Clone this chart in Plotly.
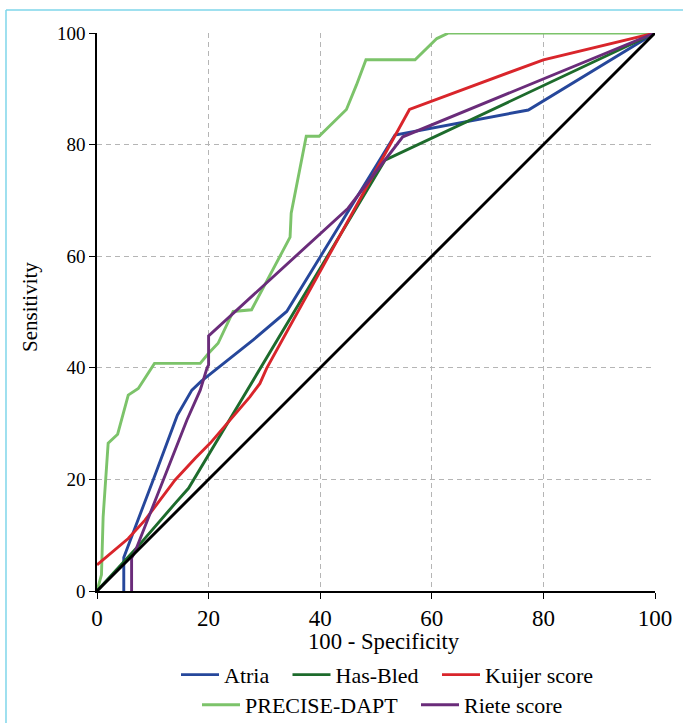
import plotly.graph_objects as go

# ---------------- data ----------------
atria_x = [4.8, 4.8, 10.1, 14.4, 17.0, 18.7, 28.0, 34.0, 53.4, 77.3, 100]
atria_y = [0, 6.0, 20.0, 31.5, 36.0, 37.6, 45.0, 50.1, 81.7, 86.2, 100]

hasbled_x = [0, 7.0, 14.0, 16.4, 51.6, 100]
hasbled_y = [0, 7.6, 15.7, 18.4, 77.2, 100]

kuijer_x = [0, 5.6, 8.6, 14.0, 17.6, 20.3, 27.4, 29.2, 30.4, 56.0, 80.0, 100]
kuijer_y = [4.7, 9.4, 12.7, 19.9, 23.8, 26.5, 34.8, 37.2, 39.9, 86.3, 95.2, 100]

precise_x = [0, 0.8, 1.1, 2.0, 3.7, 5.6, 7.4, 10.3, 18.5, 20.0, 21.7, 24.4, 27.7,
             34.6, 34.8, 37.5, 39.8, 44.7, 46.5, 48.2, 57.0, 60.9, 63.0, 100]
precise_y = [0, 2.9, 13.3, 26.5, 28.1, 35.1, 36.3, 40.8, 40.8, 42.6, 44.4, 50.1, 50.4,
             63.4, 67.7, 81.5, 81.5, 86.3, 90.7, 95.2, 95.2, 99.0, 100, 100]

riete_x = [6.2, 6.2, 6.8, 8.3, 10.7, 16.1, 18.5, 19.7, 20.0, 20.0, 45.0, 54.8, 100]
riete_y = [0, 5.9, 7.0, 10.9, 16.9, 30.6, 36.0, 39.9, 40.5, 45.7, 68.6, 81.4, 100]

ref_x = [0, 100]
ref_y = [0, 100]

tick_vals = [0, 20, 40, 60, 80, 100]
tick_text = ["0", "20", "40", "60", "80", "100"]

x_title = "100 - Specificity"
y_title = "Sensitivity"

# ---------------- figure ----------------
FONT = "Liberation Serif"
LW = 2.9

fig = go.Figure()

def add(x, y, name, color, legend, show=True):
    fig.add_trace(go.Scatter(
        x=x, y=y, mode="lines", name=name,
        line=dict(color=color, width=LW),
        showlegend=show, legend=legend, cliponaxis=False,
        hoverinfo="skip"))

add(precise_x, precise_y, "PRECISE-DAPT", "#7cc36a", "legend4")
add(atria_x, atria_y, "Atria", "#26479b", "legend")
add(hasbled_x, hasbled_y, "Has-Bled", "#1d6b2c", "legend2")
add(kuijer_x, kuijer_y, "Kuijer score", "#d9252b", "legend3")
add(riete_x, riete_y, "Riete score", "#6a2c7a", "legend5")
add(ref_x, ref_y, "Reference", "#000000", "legend", show=False)

# Light blue frame (left and top edges)
fig.add_shape(type="line", xref="paper", yref="paper",
              x0=-0.1631, x1=-0.1631, y0=-0.25, y1=1.0412,
              line=dict(color="#7fd6ea", width=1.5))
fig.add_shape(type="line", xref="paper", yref="paper",
              x0=-0.1631, x1=1.06, y0=1.0412, y1=1.0412,
              line=dict(color="#7fd6ea", width=1.5))

# Axis titles (placed as text annotations for exact positioning)
fig.add_annotation(text=x_title, xref="paper", yref="paper",
                   x=0.5143, y=-0.0905, xanchor="center", yanchor="middle",
                   showarrow=False,
                   font=dict(family=FONT, size=22.7, color="#000000"))
fig.add_annotation(text=y_title, xref="paper", yref="paper",
                   x=-0.12, y=0.509, xanchor="center", yanchor="middle",
                   textangle=-90, showarrow=False,
                   font=dict(family=FONT, size=21, color="#000000"))

axis_common = dict(
    range=[0, 100], tickmode="array", tickvals=tick_vals, ticktext=tick_text,
    showline=True, linecolor="#000000", linewidth=1.5,
    ticks="outside", ticklen=6, tickwidth=1.2, tickcolor="#000000",
    showgrid=True, gridcolor="#b5b5b5", gridwidth=1.2, griddash="5px,4px",
    zeroline=False, mirror=False, fixedrange=True,
)

def leg(x, y):
    return dict(orientation="h", x=x, xanchor="left", y=y, yanchor="middle",
                font=dict(family=FONT, size=22, color="#000000"),
                bgcolor="rgba(0,0,0,0)", borderwidth=0, itemwidth=38)

ROW1, ROW2 = -0.1502, -0.2042

fig.update_layout(
    width=683, height=723,
    margin=dict(l=97, r=28, t=33, b=132, autoexpand=False),
    paper_bgcolor="#ffffff", plot_bgcolor="#ffffff",
    font=dict(family=FONT, color="#000000"),
    xaxis=dict(**axis_common,
               tickfont=dict(family=FONT, size=23, color="#000000")),
    yaxis=dict(**axis_common,
               tickfont=dict(family=FONT, size=19, color="#000000")),
    legend=leg(0.1416, ROW1),
    legend2=leg(0.3414, ROW1),
    legend3=leg(0.6093, ROW1),
    legend4=leg(0.1792, ROW2),
    legend5=leg(0.5717, ROW2),
    showlegend=True,
)

fig.write_html(
    "out.html",
    config={"displayModeBar": False},
    post_script="document.body.style.margin='0';document.body.style.overflow='hidden';",
)
